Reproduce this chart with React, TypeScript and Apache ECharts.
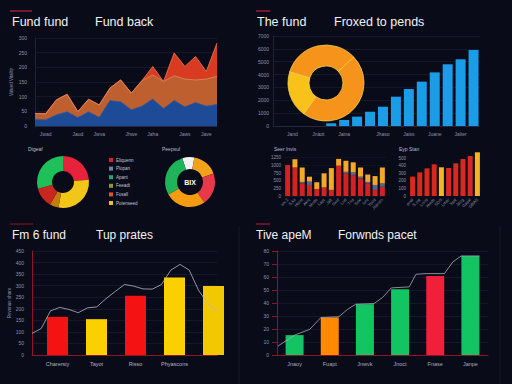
import React, { useEffect, useRef } from "react";
import * as echarts from "echarts";

// ---------- data ----------
const areaCats = ["", "Jwad", "", "", "Jaud", "", "Jwva", "", "", "Jhwe", "", "Jaha", "", "", "Jaws", "", "Jave", ""];
const areaBlue = [23, 21, 38, 49, 29, 49, 30, 87, 83, 55, 68, 92, 60, 87, 66, 80, 68, 74];
const areaOrangeTop = [43, 41, 89, 108, 49, 91, 72, 129, 157, 112, 155, 174, 152, 171, 160, 157, 160, 169];
const areaTotal = [43, 43, 89, 108, 49, 91, 72, 129, 157, 112, 155, 203, 152, 249, 203, 237, 186, 283];

const blueCats = ["", "Jand", "", "Jnaot", "", "Jaina", "", "", "Jhaso", "", "Jaiss", "", "Juane", "", "Jalter", ""];
const blueVals = [null, null, null, null, 21, 47, 73, 111, 150, 228, 288, 345, 417, 480, 519, 591];

const ringNames = ["Fund A", "Fund B", "Fund C"];
const ringVals = [120, 169, 71];

const pieLeftNames = ["Eliquenn", "Potenseed", "Feeadt", "Fosall", "Apant"];
const pieLeftVals = [85, 105, 20, 45, 105];

const pieRightNames = ["Other", "Plopan", "Fosall", "Potenseed", "Apant"];
const pieRightVals = [28, 60, 75, 95, 102];

const legendLabels = ["Eliquenn", "Plopan", "Apant", "Feeadt", "Fosall", "Potenseed"];

const stackCats = ["wx,2", "S.ks", "Hsnd", "Aknt", "Mnde", "Lapt", "Jaft", "Sxof", "Lnd", "Tnd", "Sckl", "Iunt", "Yeod", "Jeanen"];
const stackRed = [1010, 930, 410, 360, 230, 280, 200, 990, 740, 680, 580, 410, 200, 300];
const stackGrey = [0, 0, 50, 110, 0, 0, 0, 0, 50, 90, 50, 50, 160, 110];
const stackYellow = [0, 270, 470, 160, 220, 460, 710, 220, 360, 330, 300, 240, 290, 520];

const redCats = ["anal", "S.ost", "Lnnd", "Hwde", "SDS", "Lmar", "Yast", "Jaog", "Gassl", "DBAS"];
const redVals = [257, 314, 367, 420, 381, 372, 434, 491, 531, 580];

const tupCats = ["Charersiy", "Tayot", "Risso", "Phyascons", ""];
const tupBars = [165, 155, 256, 335, 299];
const tupLineCats = Array.from({ length: 21 }, (_, i) => "p" + i);
const tupLine = [93, 115, 191, 206, 197, 183, 204, 208, 244, 275, 305, 298, 286, 285, 305, 367, 392, 367, 280, 223, 187];

const pacCats = ["Jnaoy", "Fuapt", "Jnwvk", "Jnoct", "Fnase", "Janpe"];
const pacBars = [15.3, 28.9, 39.1, 50.6, 60.8, 76.2];
const pacLineX = [0.03, 0.5, 0.93, 1.25, 1.76, 2.0, 2.24, 2.76, 3.0, 3.25, 3.76, 3.95, 4.24, 4.76, 5.0, 5.24, 5.76];
const pacLineY = [6.9, 15.3, 19.7, 28.9, 29.4, 35.0, 39.1, 39.6, 44.2, 51.6, 52.4, 62.1, 62.6, 62.6, 71.6, 76.2, 76.2];

// ---------- styles ----------
const FONT = "'Liberation Sans', Arial, sans-serif";
const TICK = "#8a92aa";
const SPLIT = "#1b2138";
const RED_AX = "#8c1426";

const tickLabel = (extra: any = {}) => ({ color: TICK, fontSize: 5, fontFamily: FONT, ...extra });
const plain = (v: number) => String(v);

export default function App() {
  const ref = useRef<HTMLDivElement>(null);
  useEffect(() => {
    const chart = echarts.init(ref.current!, null, { renderer: "svg" });
    const titles = [
      ["Fund fund", 12, 15, 12.5],
      ["Fund back", 95, 15, 12.5],
      ["The fund", 257, 15, 12.5],
      ["Froxed to pends", 334, 15, 12.5],
      ["Fm 6 fund", 12, 229, 12],
      ["Tup prates", 96, 229, 12],
      ["Tive apeM", 256, 229, 12],
      ["Forwnds pacet", 338, 229, 12],
      ["Dtgeaf", 28, 146, 5],
      ["Peepsul", 162, 146, 5],
      ["Seer Invis", 274, 146, 5],
      ["Eyp Stan", 399, 146, 5],
    ].map(([t, l, tp, fs]) => ({
      text: t as string,
      left: l as number,
      top: tp as number,
      padding: 0,
      textStyle: { color: (fs as number) > 6 ? "#f2f2f2" : "#b8bccc", fontSize: fs as number, fontWeight: "normal", fontFamily: FONT },
    }));

    const legendColors = ["#d92030", "#6a86a6", "#1aa874", "#8c9a22", "#e4502a", "#f2c21c"];
    const legendGraphics: any[] = [];
    legendLabels.forEach((lab, i) => {
      legendGraphics.push({ type: "rect", shape: { x: 109, y: 158 + i * 8.6, width: 4, height: 4 }, style: { fill: legendColors[i] } });
      legendGraphics.push({ type: "text", x: 116, y: 160 + i * 8.6, style: { text: lab, fill: "#c0c4d0", fontSize: 4.5, fontFamily: FONT, verticalAlign: "middle" } });
    });

    const accent = (x1: number, y1: number, x2: number, y2: number, c: string, w = 1.2) => ({
      type: "line",
      shape: { x1, y1, x2, y2 },
      style: { stroke: c, lineWidth: w },
    });

    const option: any = {
      animation: false,
      backgroundColor: "#0a0b19",
      title: titles,
      graphic: [
        accent(10, 11, 32, 11, "#c42038"),
        accent(256, 11, 270, 11, "#c42038"),
        accent(10, 224, 33, 224, "#7a1424"),
        accent(256, 224, 270, 224, "#a01a30"),
        accent(239, 226, 239, 384, "#161a2e", 1),
        accent(500, 226, 500, 384, "#161a2e", 1),
        ...legendGraphics,
        { type: "text", x: 190, y: 182, z: 20, style: { text: "BIX", fill: "#ffffff", fontSize: 7, fontWeight: "bold", fontFamily: FONT, align: "center", verticalAlign: "middle" } },
      ],
      grid: [
        { left: 35, top: 38, width: 182, height: 88 },
        { left: 273, top: 36, width: 207, height: 90 },
        { left: 284, top: 157.7, width: 102, height: 38.3 },
        { left: 409, top: 150.8, width: 72, height: 45.2 },
        { left: 32, top: 251, width: 185, height: 104 },
        { left: 38, top: 251, width: 195, height: 104 },
        { left: 277, top: 251, width: 211, height: 104 },
      ],
      xAxis: [
        { gridIndex: 0, type: "category", data: areaCats, boundaryGap: false, axisLine: { lineStyle: { color: "#2a3050", width: 0.6 } }, axisTick: { show: false }, axisLabel: tickLabel({ interval: 0, margin: 5 }), splitLine: { show: false } },
        { gridIndex: 1, type: "category", data: blueCats, axisLine: { lineStyle: { color: "#2a3050", width: 0.6 } }, axisTick: { show: false }, axisLabel: tickLabel({ interval: 0, margin: 5 }) },
        { gridIndex: 2, type: "category", data: stackCats, axisLine: { show: false }, axisTick: { show: false }, axisLabel: tickLabel({ interval: 0, rotate: 45, fontSize: 4.2, margin: 3 }) },
        { gridIndex: 3, type: "category", data: redCats, axisLine: { show: false }, axisTick: { show: false }, axisLabel: tickLabel({ interval: 0, rotate: 45, fontSize: 4.2, margin: 3 }) },
        { gridIndex: 4, type: "category", data: tupLineCats, boundaryGap: false, axisLine: { lineStyle: { color: RED_AX, width: 1 } }, axisTick: { show: false }, axisLabel: { show: false } },
        { gridIndex: 5, type: "category", data: tupCats, axisLine: { show: false }, axisTick: { show: false }, axisLabel: tickLabel({ interval: 0, fontSize: 5.5, color: "#b0b4c4", margin: 6 }) },
        { gridIndex: 6, type: "category", data: pacCats, axisLine: { lineStyle: { color: RED_AX, width: 1 } }, axisTick: { show: false }, axisLabel: tickLabel({ interval: 0, fontSize: 5.5, color: "#a8acbc", margin: 6 }) },
        { gridIndex: 6, type: "value", min: 0, max: 6, show: false },
      ],
      yAxis: [
        { gridIndex: 0, type: "value", min: 0, max: 300, interval: 50, name: "Valued Vitality", nameLocation: "middle", nameGap: 21, nameTextStyle: { color: TICK, fontSize: 4.5, fontFamily: FONT }, axisLine: { show: true, lineStyle: { color: "#2a3050", width: 0.6 } }, axisLabel: tickLabel({ margin: 8, formatter: plain }), splitLine: { lineStyle: { color: SPLIT, width: 0.6 } } },
        { gridIndex: 1, type: "value", min: 0, max: 700, interval: 100, axisLine: { show: true, lineStyle: { color: "#2a3050", width: 0.6 } }, axisLabel: tickLabel({ margin: 4, formatter: (v: number) => String(v * 10) }), splitLine: { lineStyle: { color: SPLIT, width: 0.6 } } },
        { gridIndex: 2, type: "value", min: 0, max: 1250, interval: 250, axisLabel: tickLabel({ margin: 3, fontSize: 4.5, formatter: plain }), splitLine: { lineStyle: { color: "#151a2e", width: 0.5 } } },
        { gridIndex: 3, type: "value", min: 0, max: 600, interval: 100, axisLabel: tickLabel({ margin: 3, fontSize: 4.5, showMaxLabel: false, formatter: plain }), splitLine: { show: false } },
        { gridIndex: 4, type: "value", min: 0, max: 450, interval: 50, name: "Revenue share", nameLocation: "middle", nameGap: 19, nameTextStyle: { color: TICK, fontSize: 4.5, fontFamily: FONT }, axisLine: { show: true, lineStyle: { color: RED_AX, width: 1 } }, axisLabel: tickLabel({ margin: 8, formatter: plain }), splitLine: { lineStyle: { color: SPLIT, width: 0.6 } } },
        { gridIndex: 5, type: "value", min: 0, max: 450, show: false, splitLine: { show: false } },
        { gridIndex: 6, type: "value", min: 0, max: 80, interval: 10, axisLine: { show: true, lineStyle: { color: RED_AX, width: 1 } }, axisLabel: tickLabel({ margin: 8, formatter: plain }), splitLine: { lineStyle: { color: SPLIT, width: 0.6 } } },
      ],
      series: [
        // stacked area
        { type: "line", xAxisIndex: 0, yAxisIndex: 0, stack: "a", data: areaBlue, symbol: "none", lineStyle: { width: 0.6, color: "#3a66b0" }, areaStyle: { color: "#1d4b97", opacity: 1 } },
        { type: "line", xAxisIndex: 0, yAxisIndex: 0, stack: "a", data: areaOrangeTop.map((v, i) => v - areaBlue[i]), symbol: "none", lineStyle: { width: 0.8, color: "#e9955c" }, areaStyle: { color: "#bd5f2f", opacity: 1 } },
        { type: "line", xAxisIndex: 0, yAxisIndex: 0, stack: "a", data: areaTotal.map((v, i) => v - areaOrangeTop[i]), symbol: "none", lineStyle: { width: 0.8, color: "#f07a55" }, areaStyle: { color: "#d93a22", opacity: 1 } },
        // blue bars
        { type: "bar", xAxisIndex: 1, yAxisIndex: 1, data: blueVals, barWidth: 10, itemStyle: { color: "#1a9de6" } },
        // ring
        {
          type: "pie", center: [326, 83], radius: [17, 38], startAngle: 163, z: 10, label: { show: false }, labelLine: { show: false },
          itemStyle: { borderColor: "#f8d050", borderWidth: 0.8 },
          data: ringNames.map((n, i) => ({ name: n, value: ringVals[i], itemStyle: { color: ["#f5931a", "#f5931a", "#f9c21b"][i] } })),
        },
        {
          type: "pie", center: [63, 182], radius: [11, 26], startAngle: 90, label: { show: false }, labelLine: { show: false },
          data: pieLeftNames.map((n, i) => ({ name: n, value: pieLeftVals[i], itemStyle: { color: ["#e8223a", "#f2c618", "#c47c10", "#c8261e", "#1fbf5a"][i] } })),
        },
        {
          type: "pie", center: [190, 182], radius: [13, 25], startAngle: 108, label: { show: false }, labelLine: { show: false },
          data: pieRightNames.map((n, i) => ({ name: n, value: pieRightVals[i], itemStyle: { color: ["#f2f2f2", "#f2a21a", "#e8384a", "#f39c12", "#1fb35a"][i] } })),
        },
        // stacked small bars
        { type: "bar", xAxisIndex: 2, yAxisIndex: 2, stack: "s", data: stackRed, barWidth: 5, itemStyle: { color: "#d42222" } },
        { type: "bar", xAxisIndex: 2, yAxisIndex: 2, stack: "s", data: stackGrey, barWidth: 5, itemStyle: { color: "#56648e" } },
        { type: "bar", xAxisIndex: 2, yAxisIndex: 2, stack: "s", data: stackYellow, barWidth: 5, itemStyle: { color: "#f4a828" } },
        // red bars
        { type: "bar", xAxisIndex: 3, yAxisIndex: 3, barWidth: 5, data: redVals.map((v, i) => ({ value: v, itemStyle: { color: i === 4 || i === 9 ? "#f6b420" : "#d62a20" } })) },
        // tup prates
        { type: "bar", xAxisIndex: 5, yAxisIndex: 5, barWidth: 21, data: tupBars.map((v, i) => ({ value: v, itemStyle: { color: ["#f51212", "#fbd000", "#f51212", "#fbd000", "#f2c800"][i] } })) },
        { type: "line", xAxisIndex: 4, yAxisIndex: 4, data: tupLine, symbol: "none", z: 5, lineStyle: { color: "#b4b6c2", width: 0.8 } },
        // forwnds pacet
        { type: "bar", xAxisIndex: 6, yAxisIndex: 6, barWidth: 18, data: pacBars.map((v, i) => ({ value: v, itemStyle: { color: ["#12c462", "#ff8a00", "#12c462", "#12c462", "#f0203a", "#12c462"][i] } })) },
        { type: "line", xAxisIndex: 7, yAxisIndex: 6, data: pacLineX.map((x, i) => [x, pacLineY[i]]), symbol: "none", z: 5, lineStyle: { color: "#a8aab6", width: 0.8 } },
      ],
    };
    chart.setOption(option);
    return () => chart.dispose();
  }, []);
  return <div ref={ref} style={{ position: "fixed", left: 0, top: 0, width: 512, height: 384 }} />;
}
